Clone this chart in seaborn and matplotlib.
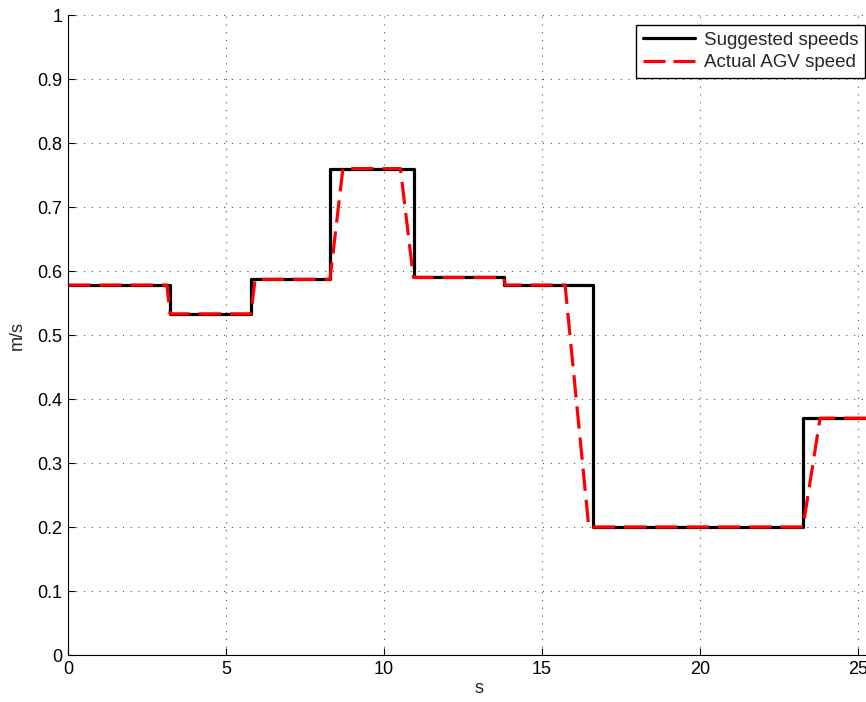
import matplotlib
matplotlib.use("Agg")
import matplotlib.pyplot as plt
import seaborn as sns
import pandas as pd

# Suggested speeds (step function: value holds from time until next time)
suggested_t = [0, 3.23, 5.79, 8.29, 10.95, 13.80, 16.62, 23.25, 26.0]
suggested_v = [0.578, 0.533, 0.587, 0.760, 0.590, 0.578, 0.200, 0.370, 0.370]

# Actual AGV speed (piecewise linear vertices)
actual_t = [0, 3.13, 3.23, 5.79, 5.92, 8.29, 8.70, 10.52, 10.93, 13.78, 13.84,
            15.73, 16.48, 23.26, 23.80, 26.0]
actual_v = [0.578, 0.578, 0.533, 0.533, 0.587, 0.587, 0.760, 0.760, 0.590, 0.590,
            0.578, 0.578, 0.200, 0.200, 0.370, 0.370]

x_ticks = [0, 5, 10, 15, 20, 25]
y_ticks = [0, 0.1, 0.2, 0.3, 0.4, 0.5, 0.6, 0.7, 0.8, 0.9, 1.0]
y_tick_labels = ["0", "0.1", "0.2", "0.3", "0.4", "0.5", "0.6", "0.7", "0.8", "0.9", "1"]

sns.set_theme(style="white")
plt.rcParams["font.family"] = ["Liberation Sans", "DejaVu Sans"]
plt.rcParams["font.size"] = 13

fig = plt.figure(figsize=(8.66, 7.02), dpi=100)
px_per_unit = 31.6
xmax = 26.0
ax = fig.add_axes([68 / 866, 47 / 702, xmax * px_per_unit / 866, 640 / 702])

df_s = pd.DataFrame({"t": suggested_t, "v": suggested_v})
df_a = pd.DataFrame({"t": actual_t, "v": actual_v})

sns.lineplot(data=df_s, x="t", y="v", ax=ax, color="black", linewidth=2.3,
             drawstyle="steps-post", sort=False, label="Suggested speeds")
sns.lineplot(data=df_a, x="t", y="v", ax=ax, color="#ff0000", linewidth=2.3,
             sort=False, label="Actual AGV speed", dashes=False)
ax.lines[1].set_dashes((7.0, 2.8))

ax.set_xlim(0, xmax)
ax.set_ylim(0, 1)
ax.set_xticks(x_ticks)
ax.set_xticklabels([str(v) for v in x_ticks])
ax.set_yticks(y_ticks)
ax.set_yticklabels(y_tick_labels)
ax.set_xlabel("s", fontsize=13, labelpad=2)
ax.set_ylabel("m/s", fontsize=13, labelpad=8)

ax.grid(True, color="#555555", linestyle=(0, (1, 6)), linewidth=0.8)
for side in ["top", "right"]:
    ax.spines[side].set_visible(False)
for side in ["left", "bottom"]:
    ax.spines[side].set_color("black")
    ax.spines[side].set_linewidth(0.8)
ax.tick_params(direction="in", length=5, width=0.8, colors="black", labelsize=13,
               left=True, bottom=True, pad=4)

leg = ax.legend(loc="upper left", bbox_to_anchor=(636 / 866, (702 - 25) / 702),
                bbox_transform=fig.transFigure, frameon=True, fancybox=False,
                framealpha=1, edgecolor="black", fontsize=13.5, borderpad=0.35,
                labelspacing=0.3, handlelength=2.8, handletextpad=0.45,
                borderaxespad=0)
leg.get_frame().set_linewidth(1.0)
leg.get_lines()[1].set_dashes((6.9, 2.5))

fig.savefig("out.png", dpi=100)
